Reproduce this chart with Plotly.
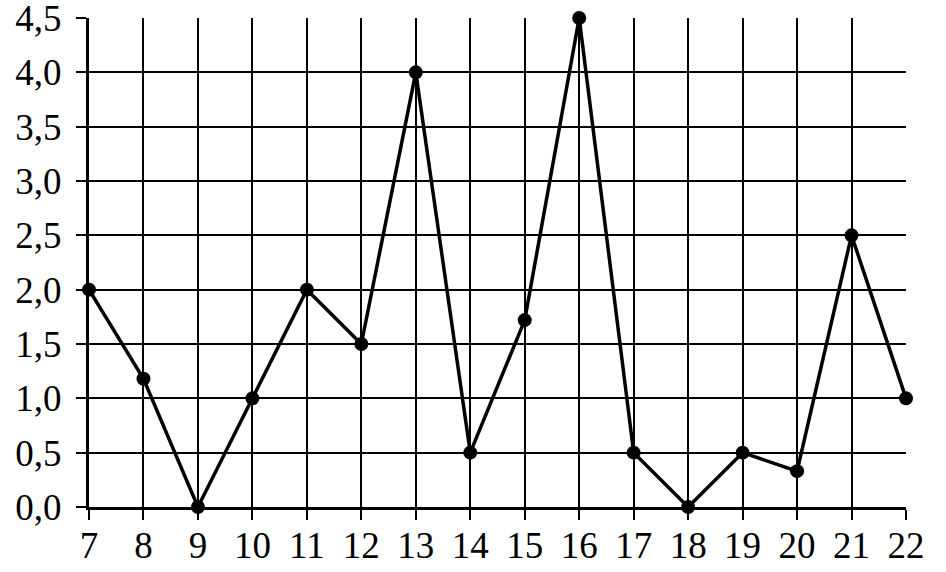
import plotly.graph_objects as go

hours = [7, 8, 9, 10, 11, 12, 13, 14, 15, 16, 17, 18, 19, 20, 21, 22]
values = [2.0, 1.18, 0.0, 1.0, 2.0, 1.5, 4.0, 0.5, 1.72, 4.5, 0.5, 0.0, 0.5, 0.33, 2.5, 1.0]

y_ticks = [0, 0.5, 1.0, 1.5, 2.0, 2.5, 3.0, 3.5, 4.0, 4.5]
y_labels = ["0,0", "0,5", "1,0", "1,5", "2,0", "2,5", "3,0", "3,5", "4,0", "4,5"]

fig = go.Figure()
fig.add_trace(go.Scatter(
    x=hours, y=values,
    mode="lines+markers",
    line=dict(color="black", width=3.5),
    marker=dict(color="black", size=14),
    cliponaxis=False,
))

fig.update_layout(
    width=946, height=572,
    margin=dict(l=89, r=40, t=18, b=65),
    paper_bgcolor="white", plot_bgcolor="white",
    showlegend=False,
    font=dict(family="Liberation Serif", size=37, color="black"),
)
fig.update_xaxes(
    range=[7, 22], tickvals=hours, ticktext=[str(h) for h in hours],
    showgrid=True, gridcolor="black", gridwidth=1.5,
    showline=True, linecolor="black", linewidth=3,
    ticks="outside", ticklen=10, tickcolor="black", tickwidth=1.5,
    ticklabelstandoff=-6, ticklabeloverflow="allow",
    zeroline=False, automargin=False,
)
fig.update_yaxes(
    range=[0, 4.5], tickvals=y_ticks, ticktext=y_labels,
    showgrid=True, gridcolor="black", gridwidth=1.5,
    showline=True, linecolor="black", linewidth=3,
    ticks="outside", ticklen=10, tickcolor="black", tickwidth=1.5,
    ticklabelstandoff=7, ticklabeloverflow="allow",
    zeroline=False, automargin=False,
)

# drop the default body margin so the figure sits at the window corner
fig.write_html("out.html", config={"displayModeBar": False},
               post_script="document.body.style.margin='0';")
